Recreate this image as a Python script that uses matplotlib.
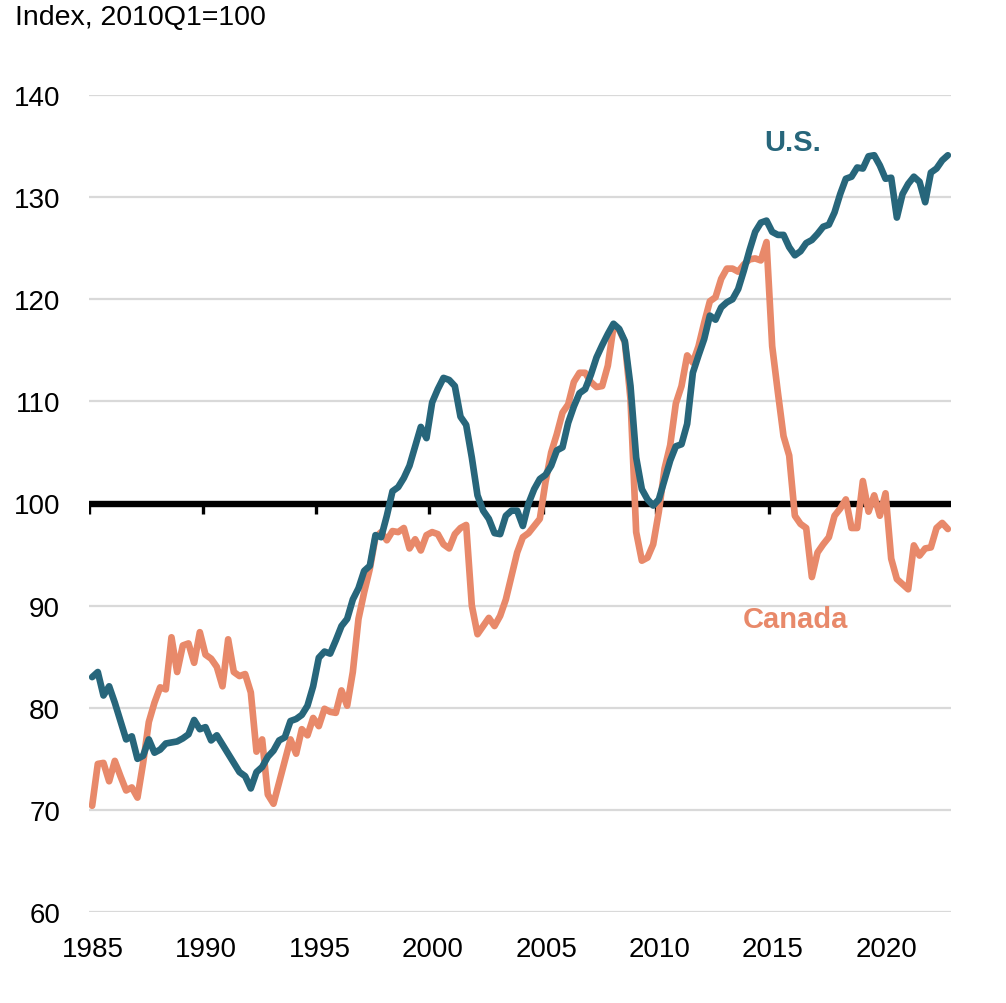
import matplotlib
matplotlib.use("Agg")
import matplotlib.pyplot as plt
import matplotlib.transforms as mtransforms
import numpy as np

plt.rcParams['font.family'] = ['Liberation Sans', 'DejaVu Sans']

start_year = 1985
n_quarters = 152  # 1985Q1 .. 2022Q4

us = [
    83.0, 83.5, 81.2, 82.1, 80.5, 78.7, 76.9, 77.2, 75.0, 75.3, 76.9, 75.6,
    75.9, 76.5, 76.6, 76.7, 77.0, 77.4, 78.8, 77.9, 78.1, 76.8, 77.3, 76.4,
    75.5, 74.6, 73.7, 73.3, 72.1, 73.7, 74.2, 75.2, 75.8, 76.8, 77.1, 78.7,
    78.9, 79.3, 80.2, 82.1, 84.9, 85.5, 85.3, 86.6, 88.0, 88.7, 90.6, 91.7,
    93.4, 93.9, 96.9, 96.7, 98.8, 101.2, 101.6, 102.5, 103.7, 105.6, 107.5, 106.4,
    109.9, 111.2, 112.3, 112.1, 111.5, 108.5, 107.7, 104.5, 100.8, 99.3, 98.5, 97.1,
    97.0, 98.8, 99.3, 99.3, 97.8, 100.0, 101.4, 102.4, 102.8, 103.7, 105.2, 105.5,
    107.9, 109.5, 110.8, 111.2, 112.6, 114.3, 115.5, 116.6, 117.6, 117.1, 115.9, 111.5,
    104.5, 101.4, 100.4, 99.8, 100.4, 102.3, 104.2, 105.6, 105.8, 107.8, 112.8, 114.5,
    116.1, 118.4, 118.0, 119.2, 119.7, 120.0, 121.0, 122.8, 124.8, 126.6, 127.5, 127.7,
    126.6, 126.3, 126.3, 125.1, 124.3, 124.7, 125.5, 125.8, 126.4, 127.1, 127.3, 128.5,
    130.3, 131.8, 132.0, 132.9, 132.8, 134.0, 134.1, 133.1, 131.8, 131.9, 128.0, 130.3,
    131.3, 132.0, 131.5, 129.5, 132.4, 132.8, 133.6, 134.1,
]

canada = [
    70.4, 74.5, 74.6, 72.8, 74.8, 73.3, 71.9, 72.2, 71.2, 74.6, 78.6, 80.5,
    82.0, 81.8, 86.9, 83.5, 86.1, 86.3, 84.4, 87.4, 85.2, 84.8, 84.0, 82.1,
    86.7, 83.5, 83.1, 83.3, 81.5, 75.7, 76.9, 71.5, 70.6, 72.7, 74.8, 76.9,
    75.5, 77.9, 77.3, 79.0, 78.2, 79.9, 79.6, 79.5, 81.7, 80.2, 83.5, 88.7,
    91.3, 93.6, 96.7, 97.2, 96.4, 97.3, 97.2, 97.6, 95.6, 96.5, 95.4, 96.9,
    97.2, 97.0, 96.0, 95.6, 97.0, 97.6, 97.9, 90.0, 87.2, 88.0, 88.8, 88.0,
    89.0, 90.6, 92.9, 95.2, 96.7, 97.1, 97.8, 98.5, 102.1, 105.0, 106.8, 108.9,
    109.7, 111.9, 112.8, 112.8, 111.9, 111.4, 111.5, 113.5, 117.3, 117.0, 115.8, 110.2,
    97.2, 94.4, 94.7, 96.0, 99.2, 103.4, 105.7, 109.8, 111.5, 114.5, 113.8, 115.4,
    117.7, 119.8, 120.2, 122.0, 123.0, 123.0, 122.7, 123.4, 123.9, 124.0, 123.8, 125.6,
    115.4, 110.9, 106.6, 104.7, 98.8, 98.0, 97.6, 92.8, 95.2, 96.0, 96.7, 98.8,
    99.5, 100.4, 97.6, 97.6, 102.2, 99.2, 100.8, 98.8, 101.0, 94.6, 92.6, 92.1,
    91.6, 95.9, 94.9, 95.6, 95.7, 97.6, 98.1, 97.5,
]

x_tick_years = [1985, 1990, 1995, 2000, 2005, 2010, 2015, 2020]
marker_years = [1985, 1990, 1995, 2000, 2005, 2010, 2015]
y_ticks = [60, 70, 80, 90, 100, 110, 120, 130, 140]

us_color = '#27667B'
ca_color = '#E8896A'

# quarterly positions at mid-quarter
x = start_year + (np.arange(n_quarters) + 0.5) / 4.0

fig = plt.figure(figsize=(10.06, 10.04), dpi=100)
ax = fig.add_axes([89.3 / 1006, 1 - 913 / 1004, (950.7 - 89.3) / 1006, (913 - 96) / 1004])

ax.set_xlim(1985, 2023)
ax.set_ylim(60, 140)

for s in ax.spines.values():
    s.set_visible(False)

ax.set_yticks(y_ticks)
ax.set_yticklabels([str(v) for v in y_ticks])
ax.yaxis.grid(True, color='#d9d9d9', linewidth=1.6)
ax.set_axisbelow(True)
ax.tick_params(axis='y', length=0, pad=21, labelsize=20)
ax.set_xticks(x_tick_years)
ax.set_xticklabels([str(v) for v in x_tick_years])
ax.tick_params(axis='x', length=0, pad=17, labelsize=20)

offset = mtransforms.ScaledTranslation(3.5 / 100, 0, fig.dpi_scale_trans)
for lbl in ax.get_xticklabels():
    lbl.set_transform(lbl.get_transform() + offset)

ax.axhline(100, color='black', linewidth=4.6, zorder=2)
ax.vlines(marker_years, 99.0, 100, color='black', linewidth=2.4, zorder=2)

ax.plot(x, canada, color=ca_color, linewidth=4.8, solid_capstyle='round',
        solid_joinstyle='round', zorder=3)
ax.plot(x, us, color=us_color, linewidth=4.8, solid_capstyle='round',
        solid_joinstyle='round', zorder=4)

ax.text(2016.05, 135.4, 'U.S.', color=us_color, fontsize=21, fontweight='bold',
        ha='center', va='center')
ax.text(2016.15, 88.7, 'Canada', color=ca_color, fontsize=21, fontweight='bold',
        ha='center', va='center')

fig.text(15 / 1006, 1 - 25 / 1004, 'Index, 2010Q1=100', fontsize=20.5,
         ha='left', va='baseline')

fig.savefig('out.png', dpi=100)
